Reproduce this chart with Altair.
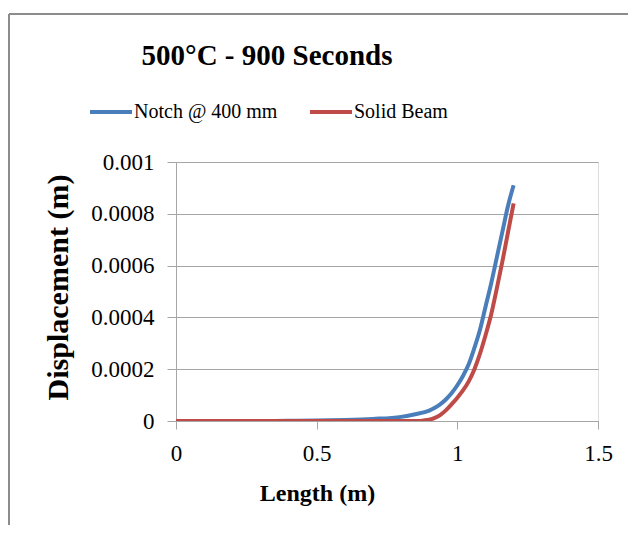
import altair as alt
import pandas as pd

# Data
notch_x = [0.0, 0.1, 0.2, 0.3, 0.4, 0.5, 0.6, 0.7, 0.8, 0.85, 0.9, 0.92, 0.94, 0.96, 0.98, 1.0, 1.02, 1.04, 1.06, 1.08, 1.1, 1.12, 1.14, 1.16, 1.18, 1.2]
notch_y = [0.0, 0.0, 0.0, 0.0, 0.000001, 0.000002, 0.000004, 0.000008, 0.000016, 0.000026, 0.00004, 0.000051, 0.000065, 0.000084, 0.000108, 0.000138, 0.000174, 0.000218, 0.00028, 0.00035, 0.00044, 0.00053, 0.00063, 0.00073, 0.00083, 0.00091]
solid_x = [0.0, 0.1, 0.2, 0.3, 0.4, 0.5, 0.6, 0.7, 0.8, 0.86, 0.88, 0.9, 0.92, 0.94, 0.96, 0.98, 1.0, 1.02, 1.04, 1.06, 1.08, 1.1, 1.12, 1.14, 1.16, 1.18, 1.2]
solid_y = [0.0, 0.0, 0.0, 0.0, 0.0, 0.0, 0.0, 0.0, 0.0, 0.0, 0.000002, 0.000005, 0.000012, 0.000024, 0.000042, 0.000065, 0.00009, 0.000118, 0.000152, 0.000198, 0.000258, 0.00033, 0.00041, 0.00051, 0.000615, 0.000728, 0.00084]
series_names = ["Notch @ 400 mm", "Solid Beam"]
series_colors = ["#4a7ebb", "#be4b48"]
x_ticks = [0, 0.5, 1, 1.5]
y_ticks = [0, 0.0002, 0.0004, 0.0006, 0.0008, 0.001]

df = pd.concat([
    pd.DataFrame({"Length": notch_x, "Displacement": notch_y, "Series": series_names[0], "order": range(len(notch_x))}),
    pd.DataFrame({"Length": solid_x, "Displacement": solid_y, "Series": series_names[1], "order": range(len(solid_x))}),
])

FONT = "Liberation Serif"
GRID = "#a6a6a6"

lines = alt.Chart(df).mark_line(strokeWidth=4, clip=True, interpolate="monotone").encode(
    x=alt.X("Length:Q",
            scale=alt.Scale(domain=[0, 1.5], nice=False),
            axis=alt.Axis(values=x_ticks, format=".1~f", grid=False,
                          title="Length (m)", titleFont=FONT, titleFontSize=24,
                          titleFontWeight="bold", titleColor="#000000",
                          titleX=141, titleY=79, titleBaseline="alphabetic",
                          titleAlign="center", titleAnchor="middle",
                          labelFont=FONT, labelFontSize=23, labelColor="#000000",
                          labelPadding=13, tickSize=8, tickColor=GRID,
                          domainColor=GRID, labelFlush=False)),
    y=alt.Y("Displacement:Q",
            scale=alt.Scale(domain=[0, 0.001], nice=False),
            axis=alt.Axis(values=y_ticks, format=".4~f", grid=True, gridColor=GRID,
                          gridWidth=1.2,
                          title="Displacement (m)", titleFont=FONT, titleFontSize=30,
                          titleFontWeight="bold", titleColor="#000000",
                          titleX=-109, titleY=125, titleAngle=270,
                          titleBaseline="alphabetic", titleAlign="center",
                          labelFont=FONT, labelFontSize=23, labelColor="#000000",
                          labelPadding=13, tickSize=9, tickColor=GRID,
                          domainColor=GRID, labelFlush=False)),
    color=alt.Color("Series:N",
                    scale=alt.Scale(domain=series_names, range=series_colors),
                    legend=alt.Legend(title=None, orient="none", legendX=-88, legendY=-73,
                                      direction="horizontal", symbolType="stroke",
                                      symbolSize=1764, symbolStrokeWidth=4,
                                      labelFont=FONT, labelFontSize=20, labelColor="#000000",
                                      labelOffset=0, columnPadding=24, padding=0)),
    order="order:Q",
)

frame_df = pd.DataFrame({"k": [0]})
frame_top = alt.Chart(frame_df).mark_rule(color="#8c8c8c", strokeWidth=2).encode(
    x=alt.value(-167), x2=alt.value(452), y=alt.value(-148))
frame_left = alt.Chart(frame_df).mark_rule(color="#8c8c8c", strokeWidth=2).encode(
    x=alt.value(-167), y=alt.value(-148), y2=alt.value(363))

chart = alt.layer(frame_top, frame_left, lines).properties(
    width=422, height=259,
    title=alt.TitleParams("500°C - 900 Seconds", font=FONT, fontSize=29, fontWeight="bold",
                          color="#000000", anchor="start", frame="group", align="center",
                          dx=91, dy=81, baseline="alphabetic", offset=0),
    autosize=alt.AutoSizeParams(type="none"),
    padding={"left": 168, "top": 154, "right": 30, "bottom": 104},
).configure_view(stroke=None).configure(background="#ffffff").configure_legend(
    labelFont=FONT, labelFontSize=20)

chart.save("out.html", embed_options={"renderer": "svg", "actions": False})
